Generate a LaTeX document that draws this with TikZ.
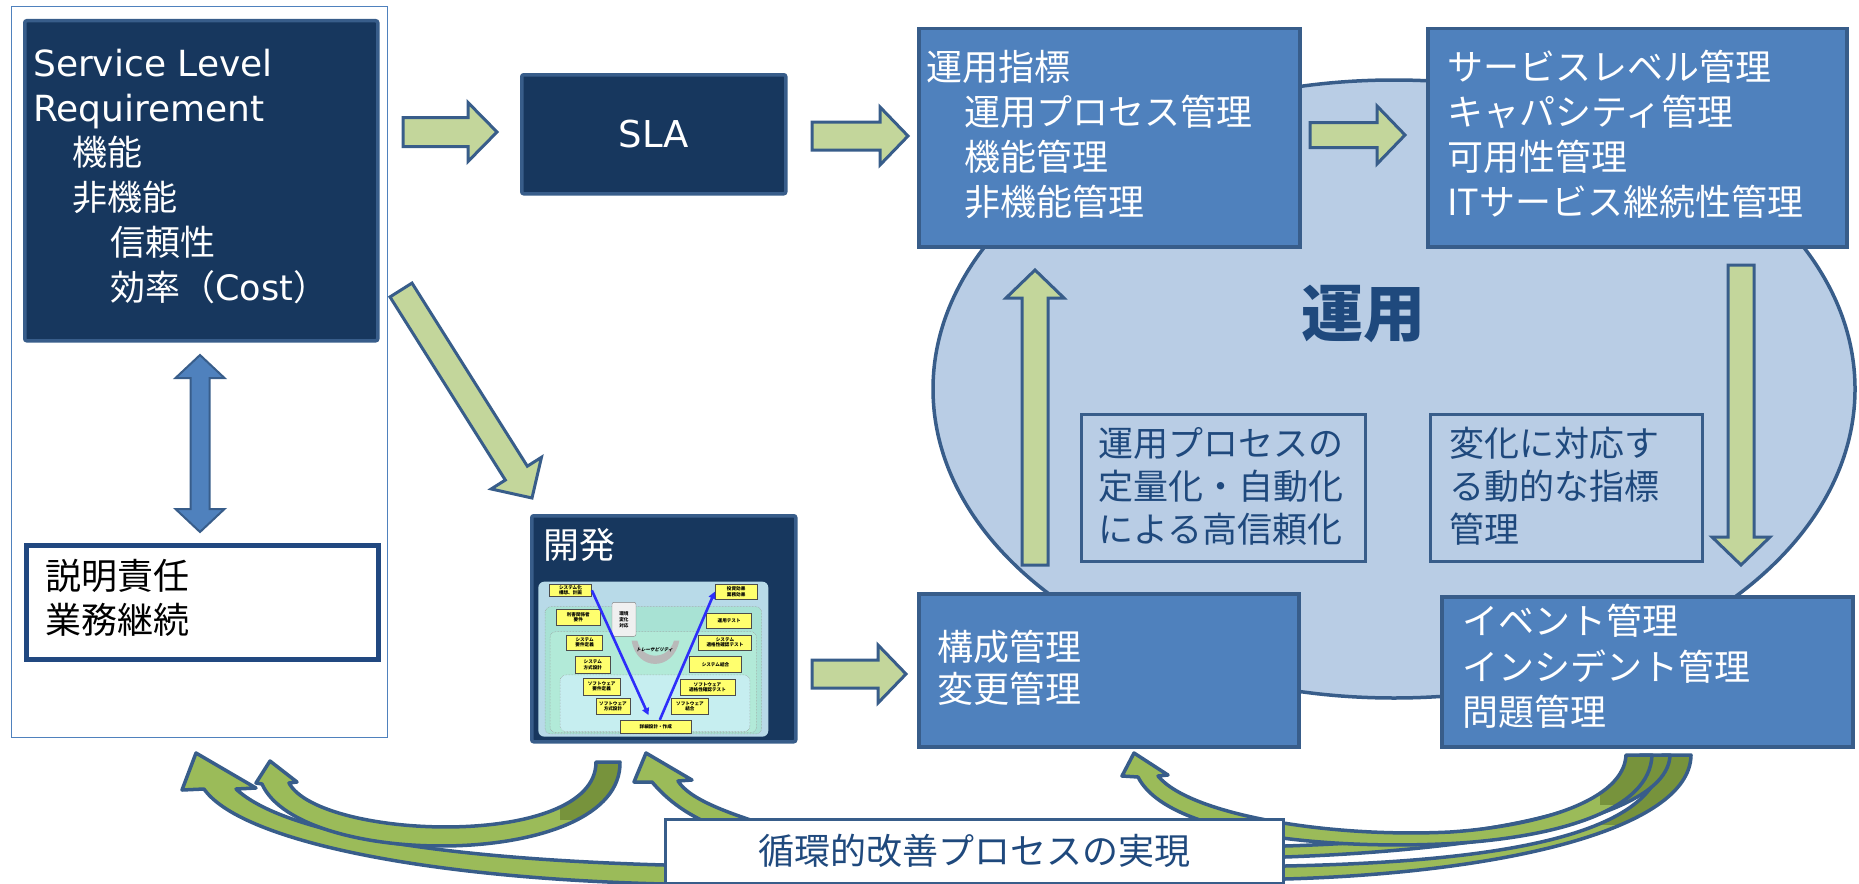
\documentclass[tikz,border=0pt]{standalone}
\usepackage{fontspec}
\setmainfont{Noto Sans CJK JP}
\newfontfamily\latinfont{DejaVu Sans}
\usetikzlibrary{calc,arrows.meta,shapes.geometric}

\definecolor{navy}{RGB}{23,55,94}
\definecolor{edgeblue}{RGB}{56,93,138}
\definecolor{midblue}{RGB}{79,129,189}
\definecolor{paleblue}{RGB}{185,205,229}
\definecolor{palegreen}{RGB}{195,214,155}
\definecolor{olive}{RGB}{155,187,89}
\definecolor{darkolive}{RGB}{119,147,60}
\definecolor{inkblue}{RGB}{31,73,125}
\definecolor{dutyblue}{RGB}{33,72,128}
\definecolor{thumbbg}{RGB}{184,218,232}
\definecolor{zoneA}{RGB}{168,226,212}
\definecolor{zoneB}{RGB}{178,234,216}
\definecolor{zoneC}{RGB}{198,238,240}
\definecolor{stepyellow}{RGB}{255,255,110}
\definecolor{vblue}{RGB}{45,45,250}

\newcommand\fsz[2]{\fontsize{#1}{#2}\selectfont}

% straight block arrow: [style]{tail}{tip}{body half width}{head half width}{head length}
\newcommand\blockarrow[6][]{%
  \coordinate (ba-h) at ($(#3)!#6!(#2)$);
  \filldraw[greenarrow,#1] ($(#2)!#4!90:(#3)$) -- ($(ba-h)!#4!90:(#3)$)
    -- ($(ba-h)!#5!90:(#3)$) -- (#3) -- ($(ba-h)!#5!-90:(#3)$)
    -- ($(ba-h)!#4!-90:(#3)$) -- ($(#2)!#4!-90:(#3)$) -- cycle;}

% two-headed block arrow: [style]{end a}{end b}{body half width}{head half width}{head length}
\newcommand\doublearrow[6][]{%
  \coordinate (da-a) at ($(#2)!#6!(#3)$);
  \coordinate (da-b) at ($(#3)!#6!(#2)$);
  \filldraw[#1] (#2) -- ($(da-a)!#5!90:(#3)$) -- ($(da-a)!#4!90:(#3)$)
    -- ($(da-b)!#4!-90:(#2)$) -- ($(da-b)!#5!-90:(#2)$) -- (#3)
    -- ($(da-b)!#5!90:(#2)$) -- ($(da-b)!#4!90:(#2)$)
    -- ($(da-a)!#4!-90:(#3)$) -- ($(da-a)!#5!-90:(#3)$) -- cycle;}

% outlines of the curved feedback arrows
\def\curveA{(204,789) .. controls (240,840) and (420,878) .. (664,884) -- (1285,879)
  .. controls (1500,873) and (1690,830) .. (1691,755) -- (1662,755)
  .. controls (1660,840) and (1480,862) .. (1285,866) -- (664,865)
  .. controls (420,858) and (280,830) .. (236,789) -- (256,788) -- (196,753) -- (182,790) -- cycle}
\def\curveD{(652,782) .. controls (680,815) and (720,835) .. (800,848) -- (1285,857)
  .. controls (1480,850) and (1668,820) .. (1670,755) -- (1640,755)
  .. controls (1640,810) and (1480,840) .. (1285,846) -- (800,835)
  .. controls (730,815) and (690,800) .. (678,781) -- (692,780) -- (646,753) -- (634,782) -- cycle}
\def\curveE{(1138,777) .. controls (1170,840) and (1350,850) .. (1460,843)
  .. controls (1560,836) and (1650,810) .. (1652,755) -- (1626,755)
  .. controls (1624,800) and (1540,826) .. (1450,832)
  .. controls (1330,838) and (1190,815) .. (1158,776) -- (1168,775) -- (1134,753) -- (1122,776) -- cycle}
\def\curveB{(620,762) .. controls (622,870) and (300,870) .. (262,784) -- (256,783) -- (270,761)
  -- (297,782) -- (289,783) .. controls (320,840) and (596,850) .. (596,762) -- cycle}

\begin{document}
\begin{tikzpicture}[x=1pt,y=-1pt,
  navybox/.style={draw=edgeblue, fill=navy, line width=3.5pt, rounded corners=2pt, anchor=north west, inner sep=0pt},
  bluebox/.style={draw=edgeblue, fill=midblue, line width=3.5pt, anchor=north west, inner sep=0pt},
  notebox/.style={draw=edgeblue, line width=2.5pt, anchor=north west, inner sep=0pt},
  dutybox/.style={draw=dutyblue, fill=white, line width=5pt, anchor=north west, inner sep=0pt},
  loopbox/.style={draw=edgeblue, fill=white, line width=2.5pt, anchor=north west, text=inkblue, font=\fsz{36}{43}},
  framebox/.style={draw=midblue, line width=1.2pt, anchor=north west, inner sep=0pt},
  txt/.style={anchor=north west, inner sep=0pt, align=left},
  greenarrow/.style={draw=edgeblue, fill=palegreen, line width=3pt},
  bluearrow/.style={draw=edgeblue, fill=midblue, line width=2pt},
  curveedge/.style={draw=edgeblue, line width=3.5pt, line join=round},
  zone/.style={draw=gray!80, densely dotted, line width=0.5pt, rounded corners=6pt},
  ybox/.style={draw=gray!60!black, line width=0.4pt, fill=stepyellow, inner sep=0pt, align=center, font=\fsz{4.6}{5.3}\bfseries},
  varrow/.style={draw=vblue, line width=2.6pt, -{Triangle[length=7pt,width=7pt]}},
]
\useasboundingbox (0,0) rectangle (1859,883);

% ---- requirement column ----
\node[framebox, minimum width=376pt, minimum height=731pt] (col) at (11,6) {};
\node[navybox, minimum width=353pt, minimum height=320pt] (slr) at (23,19) {};
\node[txt, text=white, font=\fsz{35}{44.7}] (slrtext) at (33,49)
  {{\latinfont\fsz{36}{44.7}Service Level}\\{\latinfont\fsz{36}{44.7}Requirement}\\\hspace*{39pt}機能\\\hspace*{39pt}非機能\\\hspace*{77pt}信頼性\\\hspace*{77pt}効率（{\latinfont Cost}）};
\node[dutybox, minimum width=352pt, minimum height=114pt] (duty) at (24,543) {};
\node[txt, font=\fsz{36}{43.5}] (dutytext) at (45,559) {説明責任\\業務継続};
\coordinate (dbl-top) at (200,355);
\coordinate (dbl-bot) at (200,532);
\doublearrow[bluearrow]{dbl-top}{dbl-bot}{9.5pt}{24.5pt}{23pt}

% ---- operations ellipse ----
\node[ellipse, draw=edgeblue, fill=paleblue, line width=3.5pt, minimum width=922pt, minimum height=618pt, inner sep=0pt] (ops) at (1394,389) {};
\node[font=\fsz{62}{70}\bfseries, text=inkblue] (opslabel) at (1363,314) {運用};

% ---- agreement and management boxes ----
\node[navybox, minimum width=264pt, minimum height=119pt, text=white, font=\latinfont\fsz{37}{44}] (sla) at (520,73) {SLA};
\node[bluebox, minimum width=381pt, minimum height=218pt] (kpi) at (917,27) {};
\node[txt, text=white, font=\fsz{36}{45}] (kpitext) at (926,50)
  {運用指標\\\hspace*{38pt}運用プロセス管理\\\hspace*{38pt}機能管理\\\hspace*{38pt}非機能管理};
\node[bluebox, minimum width=419pt, minimum height=218pt] (slm) at (1426,27) {};
\node[txt, text=white, font=\fsz{36}{45}] (slmtext) at (1447,50)
  {サービスレベル管理\\キャパシティ管理\\可用性管理\\ITサービス継続性管理};
\node[notebox, minimum width=284pt, minimum height=147pt] (note1) at (1080,413) {};
\node[txt, text=inkblue, font=\fsz{35}{43}] (note1text) at (1098,427)
  {運用プロセスの\\定量化・自動化\\による高信頼化};
\node[notebox, minimum width=272pt, minimum height=147pt] (note2) at (1429,413) {};
\node[txt, text=inkblue, font=\fsz{35}{43}] (note2text) at (1449,427)
  {変化に対応す\\る動的な指標\\管理};
\node[bluebox, minimum width=380pt, minimum height=153pt] (cfg) at (917,592) {};
\node[txt, text=white, font=\fsz{36}{42}] (cfgtext) at (937,630) {構成管理\\変更管理};
\node[bluebox, minimum width=411pt, minimum height=150pt] (evt) at (1440,595) {};
\node[txt, text=white, font=\fsz{36}{45.5}] (evttext) at (1462,604)
  {イベント管理\\インシデント管理\\問題管理};

% ---- development box with V-model thumbnail ----
\node[navybox, minimum width=264pt, minimum height=226pt] (dev) at (530,514) {};
\node[txt, text=white, font=\fsz{36}{40}] (devtext) at (543,528) {開発};
\begin{scope}[shift={(520,510)}, x=0.3333pt, y=-0.3333pt]
  \fill[thumbbg, rounded corners=6pt] (55,215) rectangle (745,680);
  \draw[zone, fill=zoneA] (75,290) rectangle (725,672);
  \draw[zone, fill=zoneB] (90,365) rectangle (710,668);
  \draw[zone, fill=zoneC] (120,495) rectangle (690,665);
  % traceability loop
  \fill[gray!55] (335,392) .. controls (350,485) and (460,485) .. (478,392)
    -- (462,392) .. controls (445,452) and (365,452) .. (352,392) -- cycle;
  \begin{scope}[shift={(405,418)}, xslant=0.3]
    \node[transform shape, font=\fsz{4.6}{5.3}\bfseries, inner sep=0pt] (trace) at (0,0) {トレーサビリティ};
  \end{scope}
  \node[draw=gray, fill=white!88!gray, line width=0.4pt, rounded corners=2pt, minimum width=24pt, minimum height=34pt,
        inner sep=0pt, align=center, font=\fsz{4.6}{6}\bfseries] (env) at (312,328) {環境\\変化\\対応};
  \node[ybox, minimum width=42.3pt, minimum height=12.7pt] (t1) at (151.5,241) {システム化\\構想、計画};
  \node[ybox, minimum width=43.3pt, minimum height=15.7pt] (t2) at (175,321.5) {利害関係者\\要件};
  \node[ybox, minimum width=36pt, minimum height=15pt] (t3) at (194,397.5) {システム\\要件定義};
  \node[ybox, minimum width=35.7pt, minimum height=16.7pt] (t4) at (218.5,465) {システム\\方式設計};
  \node[ybox, minimum width=36.7pt, minimum height=16.7pt] (t5) at (245,530) {ソフトウェア\\要件定義};
  \node[ybox, minimum width=34pt, minimum height=15.7pt] (t6) at (279,588.5) {ソフトウェア\\方式設計};
  \node[ybox, minimum width=71.7pt, minimum height=13.3pt] (t7) at (407.5,650) {詳細設計・作成};
  \node[ybox, minimum width=36.7pt, minimum height=15.7pt] (t8) at (510,588.5) {ソフトウェア\\結合};
  \node[ybox, minimum width=55pt, minimum height=15.7pt] (t9) at (562.5,531.5) {ソフトウェア\\適格性確認テスト};
  \node[ybox, minimum width=52.3pt, minimum height=16pt] (t10) at (586.5,464) {システム結合};
  \node[ybox, minimum width=53.3pt, minimum height=15pt] (t11) at (615,397.5) {システム\\適格性確認テスト};
  \node[ybox, minimum width=45pt, minimum height=15pt] (t12) at (627.5,332.5) {運用テスト};
  \node[ybox, minimum width=42.3pt, minimum height=15.3pt] (t13) at (648.5,245) {投資効果\\業務効果};
  \draw[varrow] (t1.east) -- ($(t7.north)+(-22,-14)$);
  \draw[varrow] ($(t7.north)+(12,0)$) -- (t13.west);
\end{scope}

% ---- straight flow arrows ----
\coordinate (a1s) at (403,132);  \coordinate (a1e) at (497,132);
\coordinate (a2s) at (812,136);  \coordinate (a2e) at (908,136);
\coordinate (a3s) at (1310,135); \coordinate (a3e) at (1405,135);
\coordinate (a4s) at (812,674);  \coordinate (a4e) at (906,674);
\coordinate (a5s) at (401,290);  \coordinate (a5e) at (532,498);
\coordinate (a6s) at (1035,565); \coordinate (a6e) at (1035,270);
\coordinate (a7s) at (1741,265); \coordinate (a7e) at (1741,565);
\blockarrow{a1s}{a1e}{14.5pt}{29.5pt}{29pt}
\blockarrow{a2s}{a2e}{14pt}{29pt}{28pt}
\blockarrow{a3s}{a3e}{12.5pt}{29pt}{28pt}
\blockarrow{a4s}{a4e}{14pt}{29pt}{28pt}
\blockarrow{a5s}{a5e}{13pt}{29.7pt}{29.4pt}
\blockarrow{a6s}{a6e}{13pt}{29pt}{28pt}
\blockarrow{a7s}{a7e}{13pt}{29pt}{28pt}

% ---- curved feedback arrows (rising tails shaded darker) ----
\fill[olive] \curveA;
\begin{scope}\clip \curveA; \fill[darkolive] (1600,740) rectangle (1700,825); \end{scope}
\draw[curveedge] \curveA;
\fill[olive] \curveD;
\begin{scope}\clip \curveD; \fill[darkolive] (1600,740) rectangle (1700,815); \end{scope}
\draw[curveedge] \curveD;
\fill[olive] \curveE;
\begin{scope}\clip \curveE; \fill[darkolive] (1600,740) rectangle (1700,805); \end{scope}
\draw[curveedge] \curveE;
\fill[olive] \curveB;
\begin{scope}\clip \curveB; \fill[darkolive] (560,740) rectangle (640,820); \end{scope}
\draw[curveedge] \curveB;

\node[loopbox, minimum width=618pt, minimum height=64pt] (loop) at (664,818) {循環的改善プロセスの実現};
\end{tikzpicture}
\end{document}
